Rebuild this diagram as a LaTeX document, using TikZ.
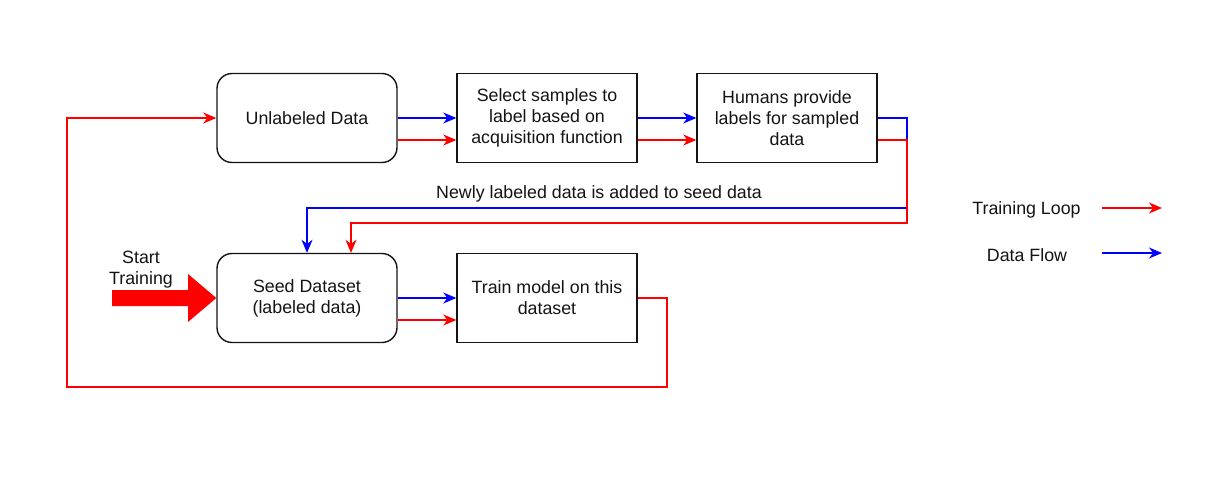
\documentclass[tikz,border=0pt]{standalone}
\usepackage{fontspec}
\setmainfont{Liberation Sans}
\usetikzlibrary{arrows.meta,calc}
\definecolor{dfred}{RGB}{255,0,0}
\definecolor{dfblue}{RGB}{0,0,255}
\definecolor{txt}{RGB}{20,20,20}
\begin{document}
\begin{tikzpicture}[x=1pt,y=1pt,
  every node/.style={font=\fontsize{17.8}{21}\selectfont, text=txt},
  box/.style={draw=txt, line width=1.4pt, minimum width=180pt, minimum height=89pt, align=center, inner sep=2pt},
  rbox/.style={box, rounded corners=15pt},
  tip/.style={-{Stealth[length=13pt,width=11pt,inset=4pt]}},
  rd/.style={tip, draw=dfred, line width=1.4pt},
  bl/.style={tip, draw=dfblue, line width=1.4pt}]
\useasboundingbox (0,0) rectangle (1226,-479);
\fill[white] (0,0) rectangle (1226,-479);
% boxes
\node[rbox] (unl) at (307,-118) {Unlabeled Data};
\node[box] (sel) at (547,-118) {Select samples to\\label based on\\acquisition function};
\node[box] (hum) at (787,-118) {Humans provide\\labels for sampled\\data};
\node[rbox] (seed) at (307,-298) {Seed Dataset\\(labeled data)};
\node[box] (train) at (547,-298) {Train model on this\\dataset};
% top row arrows
\draw[bl] (unl.east) -- (sel.west);
\draw[rd] ([yshift=-22pt]unl.east) -- ([yshift=-22pt]sel.west);
\draw[bl] (sel.east) -- (hum.west);
\draw[rd] ([yshift=-22pt]sel.east) -- ([yshift=-22pt]hum.west);
% bottom row arrows
\draw[bl] (seed.east) -- (train.west);
\draw[rd] ([yshift=-22pt]seed.east) -- ([yshift=-22pt]train.west);
% feedback from humans to seed
\coordinate (b1) at (907,-208);
\coordinate (r1) at (907,-223);
\draw[bl] (hum.east) -| (b1) -| (seed.north);
\draw[rd] ([yshift=-22pt]hum.east) -| (r1) -| ([xshift=44pt]seed.north);
\node (newly) at (599,-194) {Newly labeled data is added to seed data};
% loop from train to unlabeled
\coordinate (l1) at (667,-387);
\coordinate (l2) at (67,-118);
\draw[rd] (train.east) -| (l1) -| (l2) -- (unl.west);
% start training arrow
\fill[dfred] (112,-290) -- (188,-290) -- (188,-274) -- (seed.west) -- (188,-322) -- (188,-306) -- (112,-306) -- cycle;
\node[align=center] (start) at (141,-270) {Start\\Training};
% legend
\node (lgt) at (1026.5,-210) {Training Loop};
\node (lgd) at (1027,-255) {Data Flow};
\coordinate (ta) at (1102,-208);
\coordinate (tb) at (1162,-208);
\coordinate (da) at (1102,-253);
\coordinate (db) at (1162,-253);
\draw[rd] (ta) -- (tb);
\draw[bl] (da) -- (db);
\end{tikzpicture}
\end{document}
